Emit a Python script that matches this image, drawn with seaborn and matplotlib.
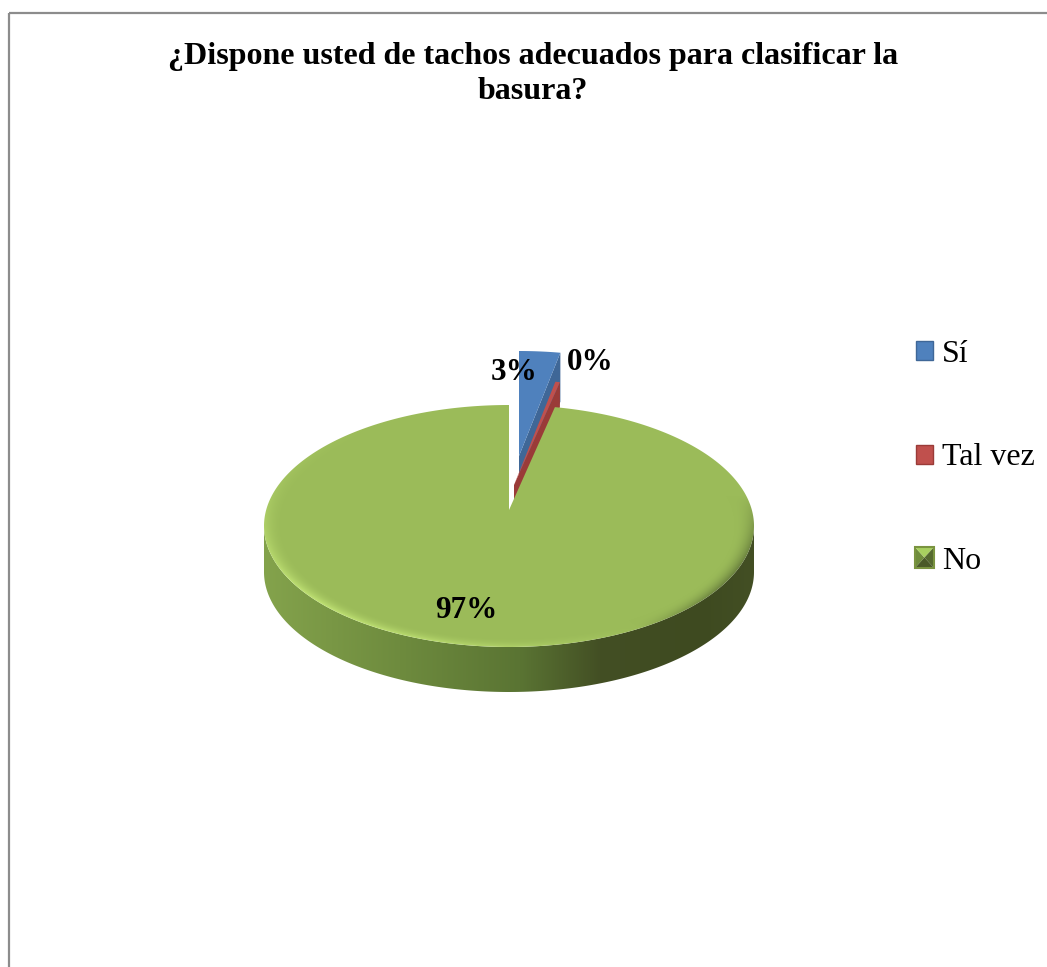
import numpy as np
import matplotlib
matplotlib.use("Agg")
import matplotlib.pyplot as plt
from matplotlib.patches import Patch, Polygon, Rectangle
from matplotlib.path import Path
from matplotlib.legend_handler import HandlerBase
from matplotlib.colors import to_rgb
import seaborn as sns

# Survey answers, in percent
categories = ["Sí", "Tal vez", "No"]
shares = [2.7, 0.3, 97.0]
title_text = "¿Dispone usted de tachos adecuados para clasificar la\nbasura?"

sns.set_theme(style="white")
plt.rcParams["font.family"] = ["Liberation Serif", "DejaVu Serif"]
palette = sns.color_palette(["#4f81bd", "#c0504d", "#9bbb59"])
wall_shades = sns.color_palette(["#3f6797", "#9a3b38"])

# Geometry of the tilted disc, in figure pixels
CX, CY, RX, RY = 509.0, 526.0, 245.0, 121.0
APEX_Y = 510.0
BASE_CY, BASE_RX, BASE_RY = 572.0, 245.0, 120.0
offsets = {"Sí": (10.0, -54.0), "Tal vez": (5.0, -25.0), "No": (0.0, 0.0)}
depths = {"Sí": 49.0, "Tal vez": 25.0}

fig = plt.figure(figsize=(10.47, 9.67), dpi=100, facecolor="white")
ax = fig.add_axes([0, 0, 1, 1])
ax.set_xlim(0, 1047)
ax.set_ylim(967, 0)
ax.axis("off")

# Chart frame; its right and bottom sides run past the canvas
ax.add_patch(Rectangle((8.5, 12.5), 1200, 1200, fill=False, ec="#8c8c8c", lw=1.6))


def wedge_outline(start, end, offset=(0.0, 0.0), n=240):
    """Outline of a slice on the top face; angles run clockwise from twelve o'clock."""
    theta = np.radians(np.linspace(start, end, n))
    xs = CX + RX * np.sin(theta) + offset[0]
    ys = CY - RY * np.cos(theta) + offset[1]
    apex = (CX + offset[0], APEX_Y + offset[1])
    return np.vstack([[apex], np.column_stack([xs, ys])])


angles = np.cumsum([0.0] + shares) / sum(shares) * 360.0

# The two small slices pulled away from the disc: walls first, then top faces
for name, colour, shade, start, end in zip(categories[:2], palette[:2], wall_shades,
                                           angles[:2], angles[1:3]):
    off = offsets[name]
    outline = wedge_outline(start, end, off, n=30)
    far_edge = np.array([outline[0], outline[-1]])
    wall = np.vstack([far_edge, far_edge[::-1] + [0, depths[name]]])
    ax.add_patch(Polygon(wall, closed=True, fc=shade, ec="none", zorder=2))
    ax.add_patch(Polygon(outline, closed=True, fc=colour, ec="none", zorder=2.1))

# Outer wall of the large slice with a horizontal shading
t = np.radians(np.linspace(90, 270, 300))
upper = np.column_stack([CX + RX * np.sin(t), CY - RY * np.cos(t)])
lower = np.column_stack([CX + BASE_RX * np.sin(t), BASE_CY - BASE_RY * np.cos(t)])
wall_path = Path(np.vstack([upper, lower[::-1], upper[:1]]), closed=True)

stop_x = [263, 400, 520, 600, 700, 754]
stop_rgb = np.array([to_rgb(c) for c in
                     ["#84a34c", "#6e8b3e", "#5a7433", "#434f24", "#3e4a20", "#434f24"]])
col_x = np.arange(255, 765)
ramp = np.stack([np.interp(col_x, stop_x, stop_rgb[:, k]) for k in range(3)], axis=-1)
wall_img = ax.imshow(ramp[None, :, :], extent=(255, 765, 700, 515), aspect="auto",
                     zorder=3, interpolation="bilinear")
wall_img.set_clip_path(Polygon(wall_path.vertices, closed=True, transform=ax.transData))

# Top face of the large slice, with a bevelled rim lit from the lower left
gx, gy = np.meshgrid(np.arange(255, 765), np.arange(395, 660))
nx, ny = (gx + 0.5 - CX) / RX, (gy + 0.5 - CY) / RY
rad = np.hypot(nx, ny)
band = np.clip((rad - 0.92) / 0.08, 0, 1) ** 2
raw_light = -0.8 * nx + 0.5 * ny
light_weight = 0.35 + 0.65 * np.clip(ny + 0.4, 0, 1)
dark_weight = np.clip(ny + 0.25, 0, 1)
base = np.array(palette[2])
bright = np.array(to_rgb("#bddf72"))
dark = np.array(to_rgb("#46562a"))
amount_up = (band * np.clip(raw_light, 0, 1) * light_weight * 1.2)[..., None].clip(0, 1)
amount_dn = (band * np.clip(-raw_light, 0, 1) * dark_weight * 1.7)[..., None].clip(0, 1)
face = base * (1 - amount_up) + bright * amount_up
face = face * (1 - amount_dn) + dark * amount_dn
face_img = ax.imshow(face, extent=(255, 765, 660, 395), aspect="auto", zorder=4,
                     interpolation="bilinear")
face_img.set_clip_path(Polygon(wedge_outline(angles[2], angles[3], n=600), closed=True,
                               transform=ax.transData))
ax.set_xlim(0, 1047)
ax.set_ylim(967, 0)

# Percentage labels
label_spots = [(514, 373), (590, 362), (466, 611)]
for share, (lx, ly) in zip(shares, label_spots):
    ax.text(lx, ly, f"{round(share)}%", ha="center", va="center", fontsize=22.4,
            fontweight="bold", color="black", zorder=6)

ax.text(533, 74, title_text, ha="center", va="center", fontsize=23.05, fontweight="bold",
        color="black", linespacing=1.23, zorder=6)


class BevelSquare(HandlerBase):
    """Legend key for the bevelled slice: four shaded triangles inside an olive frame."""

    def create_artists(self, legend, orig_handle, xdescent, ydescent, width, height,
                       fontsize, trans):
        x0, y0 = xdescent * -1 - 1, ydescent * -1 - 1
        x1, y1 = x0 + width + 2, y0 + height + 2
        mid = ((x0 + x1) / 2, (y0 + y1) / 2)
        corners = [(x0, y0), (x0, y1), (x1, y1), (x1, y0)]
        shades = ["#6f8c3b", "#a8d060", "#55692f", "#4a5a28"]
        artists = []
        for i, shade in enumerate(shades):
            tri = Polygon([corners[i], corners[(i + 1) % 4], mid], closed=True, fc=shade,
                          ec="none", transform=trans)
            artists.append(tri)
        artists.append(Rectangle((x0, y0), x1 - x0, y1 - y0, fill=False, ec="#7a9440",
                                 lw=1.5, transform=trans))
        return artists


handles = [Patch(fc=palette[0], ec="#3f6797", lw=1.0, label=categories[0]),
           Patch(fc=palette[1], ec="#9a3b38", lw=1.0, label=categories[1]),
           Patch(fc=palette[2], ec="#5f7a35", label=categories[2])]
legend = ax.legend(handles=handles, loc="upper left", bbox_to_anchor=(916, 340),
                   bbox_transform=ax.transData, frameon=False, fontsize=23,
                   labelcolor="black", handlelength=0.53, handleheight=0.53,
                   handletextpad=0.283, labelspacing=2.33, borderpad=0, borderaxespad=0,
                   handler_map={handles[2]: BevelSquare()})
legend.set_zorder(6)

fig.savefig("out.png", dpi=100, facecolor="white")
